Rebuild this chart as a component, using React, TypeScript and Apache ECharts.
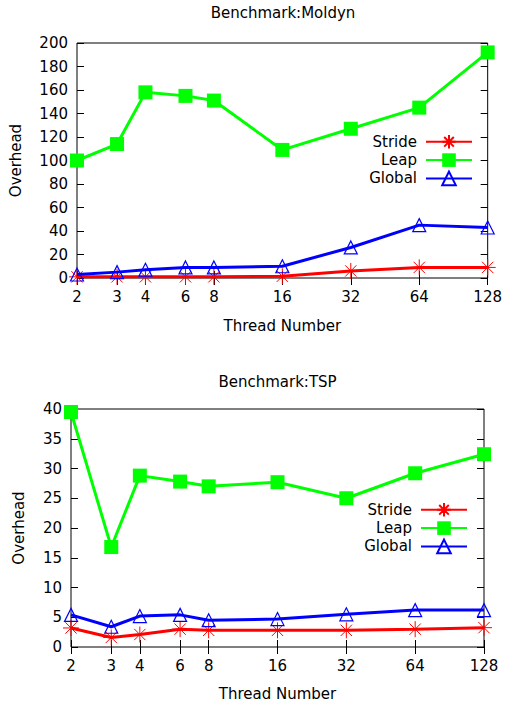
import React, { useEffect, useRef } from "react";
import * as echarts from "echarts";

const threads = [2, 3, 4, 6, 8, 16, 32, 64, 128];

const moldynStride = [1, 1, 1, 1, 1, 1.5, 6, 9, 9];
const moldynLeap = [100, 114, 158, 155, 151, 109, 127, 145, 192];
const moldynGlobal = [3, 5, 7, 9, 9, 10, 26, 45, 43];

const tspStride = [3.2, 1.6, 2.1, 3.0, 2.8, 2.8, 2.8, 3.0, 3.25];
const tspLeap = [39.5, 16.8, 28.8, 27.8, 27.0, 27.7, 25.0, 29.2, 32.4];
const tspGlobal = [5.4, 3.4, 5.2, 5.4, 4.5, 4.7, 5.5, 6.2, 6.2];

const seriesNames = ["Stride", "Leap", "Global"];
const titles = ["Benchmark:Moldyn", "Benchmark:TSP"];
const xName = "Thread Number";
const yName = "Overhead";

const FONT = "DejaVu Sans";
const RED = "#ff0000";
const GREEN = "#00ff00";
const BLUE = "#0000ff";
const ASTERISK =
  "path://M0,-10L0,10M-10,0L10,0M-7.07,-7.07L7.07,7.07M-7.07,7.07L7.07,-7.07";

const logTicks = threads.map((t) => Math.log2(t));

function pts(vals: number[]) {
  return threads.map((t, i) => [Math.log2(t), vals[i]]);
}

function xAxes(gridIndex: number, nameGap: number) {
  const common = {
    type: "value",
    gridIndex,
    min: 1,
    max: 7,
    axisLine: { show: false },
    splitLine: { show: false },
    axisTick: {
      show: true,
      inside: true,
      length: 7,
      customValues: logTicks,
      lineStyle: { color: "#000", width: 1 },
    },
  };
  return [
    {
      ...common,
      position: "bottom",
      name: xName,
      nameLocation: "middle",
      nameGap,
      nameTextStyle: { fontFamily: FONT, fontSize: 15, color: "#000" },
      axisLabel: {
        customValues: logTicks,
        formatter: (v: number) => String(Math.round(Math.pow(2, v))),
        fontFamily: FONT,
        fontSize: 15,
        color: "#000",
        margin: 11,
      },
    },
    {
      ...common,
      position: "top",
      axisLabel: { show: false },
    },
  ];
}

function yAxes(gridIndex: number, max: number, interval: number, nameGap: number) {
  const common = {
    type: "value",
    gridIndex,
    min: 0,
    max,
    interval,
    axisLine: { show: false },
    splitLine: { show: false },
    axisTick: {
      show: true,
      inside: true,
      length: 7,
      lineStyle: { color: "#000", width: 1 },
    },
  };
  return [
    {
      ...common,
      position: "left",
      name: yName,
      nameLocation: "middle",
      nameGap,
      nameTextStyle: { fontFamily: FONT, fontSize: 15, color: "#000" },
      axisLabel: { fontFamily: FONT, fontSize: 15, color: "#000", margin: 9 },
    },
    {
      ...common,
      position: "right",
      axisLabel: { show: false },
    },
  ];
}

function makeSeries(xi: number, yi: number, stride: number[], leap: number[], glob: number[]) {
  return [
    {
      name: seriesNames[0],
      type: "line",
      xAxisIndex: xi,
      yAxisIndex: yi,
      data: pts(stride),
      symbol: ASTERISK,
      symbolSize: 16,
      lineStyle: { color: RED, width: 3 },
      itemStyle: { color: "rgba(0,0,0,0)", borderColor: RED, borderWidth: 1 },
      z: 2,
    },
    {
      name: seriesNames[1],
      type: "line",
      xAxisIndex: xi,
      yAxisIndex: yi,
      data: pts(leap),
      symbol: "rect",
      symbolSize: 14,
      lineStyle: { color: GREEN, width: 3 },
      itemStyle: { color: GREEN, borderWidth: 0 },
      z: 3,
    },
    {
      name: seriesNames[2],
      type: "line",
      xAxisIndex: xi,
      yAxisIndex: yi,
      data: pts(glob),
      symbol: "triangle",
      symbolSize: 13,
      lineStyle: { color: BLUE, width: 3 },
      itemStyle: { color: "rgba(0,0,0,0)", borderColor: BLUE, borderWidth: 1.2 },
      z: 4,
    },
  ];
}

function legend(top: number, right: number) {
  return {
    orient: "vertical",
    align: "right",
    top,
    right,
    padding: 0,
    itemGap: 3,
    itemWidth: 46,
    itemHeight: 17,
    data: seriesNames,
    selectedMode: false,
    textStyle: { fontFamily: FONT, fontSize: 15, color: "#000", padding: [0, 4, 0, 0] },
  };
}

export default function App() {
  const ref = useRef<HTMLDivElement>(null);
  useEffect(() => {
    if (!ref.current) return;
    const chart = echarts.init(ref.current, undefined, { renderer: "svg" });
    chart.setOption({
      animation: false,
      backgroundColor: "#fff",
      textStyle: { fontFamily: FONT },
      graphic: [
        {
          type: "text",
          x: 283,
          y: 13,
          style: {
            text: titles[0],
            fontFamily: FONT,
            fontSize: 15,
            fill: "#000",
            textAlign: "center",
            textVerticalAlign: "middle",
          },
        },
        {
          type: "text",
          x: 277.5,
          y: 382,
          style: {
            text: titles[1],
            fontFamily: FONT,
            fontSize: 15,
            fill: "#000",
            textAlign: "center",
            textVerticalAlign: "middle",
          },
        },
      ],
      grid: [
        {
          left: 77,
          right: 16,
          top: 43,
          height: 235,
          show: true,
          borderColor: "#000",
          borderWidth: 1,
          backgroundColor: "transparent",
        },
        {
          left: 71,
          right: 21,
          top: 409,
          height: 238,
          show: true,
          borderColor: "#000",
          borderWidth: 1,
          backgroundColor: "transparent",
        },
      ],
      xAxis: [...xAxes(0, 40), ...xAxes(1, 39)],
      yAxis: [...yAxes(0, 200, 20, 54), ...yAxes(1, 40, 5, 45)],
      legend: [legend(134, 32), legend(502, 37)],
      series: [
        ...makeSeries(0, 0, moldynStride, moldynLeap, moldynGlobal),
        ...makeSeries(2, 2, tspStride, tspLeap, tspGlobal),
      ],
    });
    return () => chart.dispose();
  }, []);
  return (
    <div
      ref={ref}
      style={{ position: "fixed", left: 0, top: 0, width: 505, height: 705 }}
    />
  );
}
